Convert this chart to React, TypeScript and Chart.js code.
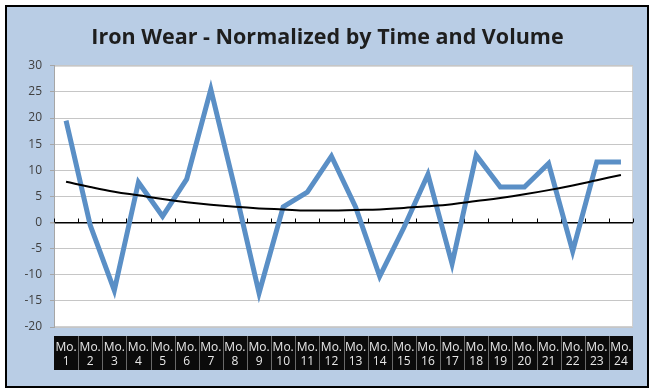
import { useEffect, useRef } from 'react';
import { Chart, registerables } from 'chart.js';

Chart.register(...registerables);

const titleText = 'Iron Wear - Normalized by Time and Volume';

const categories = [
  'Mo. 1', 'Mo. 2', 'Mo. 3', 'Mo. 4', 'Mo. 5', 'Mo. 6', 'Mo. 7', 'Mo. 8',
  'Mo. 9', 'Mo. 10', 'Mo. 11', 'Mo. 12', 'Mo. 13', 'Mo. 14', 'Mo. 15', 'Mo. 16',
  'Mo. 17', 'Mo. 18', 'Mo. 19', 'Mo. 20', 'Mo. 21', 'Mo. 22', 'Mo. 23', 'Mo. 24',
];

const wearValues = [
  19.5, -0.5, -13, 7.7, 1.2, 8.3, 25.5, 6.5, -13.5, 3, 5.8, 12.7,
  3, -10.3, -1, 9.2, -7.9, 12.9, 6.8, 6.8, 11.3, -5.5, 11.6, 11.6,
];

const trendValues = [
  7.8, 6.8, 5.9, 5.2, 4.5, 3.9, 3.4, 3.0, 2.7, 2.5, 2.3, 2.3,
  2.4, 2.5, 2.8, 3.1, 3.5, 4.1, 4.7, 5.4, 6.2, 7.1, 8.1, 9.1,
];

const yMin = -20;
const yMax = 30;
const yStep = 5;

const framePlugin = {
  id: 'frame',
  beforeDraw(chart: any) {
    const { ctx, chartArea, width, height } = chart;
    const xs = chart.scales.x;
    ctx.save();
    ctx.fillStyle = '#ffffff';
    ctx.fillRect(0, 0, width, height);
    ctx.fillStyle = '#b9cde5';
    ctx.fillRect(6, 6, 642, 381);
    ctx.strokeStyle = '#000000';
    ctx.lineWidth = 2;
    ctx.strokeRect(6, 6, 642, 381);
    // plot area
    ctx.fillStyle = '#ffffff';
    ctx.fillRect(chartArea.left, chartArea.top, chartArea.right - chartArea.left, chartArea.bottom - chartArea.top);
    ctx.strokeStyle = '#d0d0d0';
    ctx.lineWidth = 1;
    ctx.strokeRect(chartArea.left + 0.5, chartArea.top + 0.5, chartArea.right - chartArea.left - 1, chartArea.bottom - chartArea.top - 1);
    // label cells
    const top = chartArea.bottom + 9;
    const bottom = chartArea.bottom + 43;
    const x0 = xs.getPixelForValue(-0.5);
    const x1 = xs.getPixelForValue(categories.length - 0.5);
    ctx.fillStyle = '#0b0b0b';
    ctx.fillRect(x0, top, x1 - x0, bottom - top);
    ctx.strokeStyle = '#6a6a6a';
    ctx.lineWidth = 1;
    for (let i = 1; i < categories.length; i++) {
      const x = Math.round(xs.getPixelForValue(i - 0.5)) + 0.5;
      ctx.beginPath();
      ctx.moveTo(x, top);
      ctx.lineTo(x, bottom);
      ctx.stroke();
    }
    ctx.restore();
  },
  beforeDatasetsDraw(chart: any) {
    const { ctx } = chart;
    const xs = chart.scales.x;
    const ys = chart.scales.y;
    const y0 = ys.getPixelForValue(0);
    ctx.save();
    ctx.strokeStyle = '#000000';
    ctx.lineWidth = 1;
    for (let i = 0; i <= categories.length; i++) {
      const x = Math.round(xs.getPixelForValue(i - 0.5)) + 0.5;
      ctx.beginPath();
      ctx.moveTo(x, y0);
      ctx.lineTo(x, y0 - 4);
      ctx.stroke();
    }
    ctx.restore();
  },
};

export default function App() {
  const ref = useRef<HTMLCanvasElement>(null);
  useEffect(() => {
    if (!ref.current) return;
    const chart = new Chart(ref.current, {
      type: 'line',
      data: {
        labels: categories,
        datasets: [
          {
            label: 'Trend',
            data: trendValues,
            borderColor: '#000000',
            borderWidth: 2,
            pointRadius: 0,
            tension: 0.4,
            fill: false,
            order: 0,
          },
          {
            label: 'Wear',
            data: wearValues,
            borderColor: '#5a8fc6',
            borderWidth: 5,
            pointRadius: 0,
            tension: 0,
            fill: false,
            order: 1,
          },
        ],
      },
      options: {
        animation: false,
        responsive: false,
        devicePixelRatio: 1,
        layout: { padding: { left: 22, right: 22, top: 0, bottom: 0 } },
        plugins: {
          legend: { display: false },
          tooltip: { enabled: false },
          title: {
            display: true,
            text: titleText,
            color: '#1e1e1e',
            font: { family: 'Open Sans', size: 21.5, weight: 'bold' },
            padding: { top: 25, bottom: 15 },
          },
        },
        scales: {
          x: {
            type: 'category',
            offset: true,
            grid: { display: false, drawTicks: false },
            border: { display: false },
            ticks: {
              color: '#e8e8e8',
              font: { family: 'Open Sans', size: 12 },
              padding: 13,
              maxRotation: 0,
              minRotation: 0,
              autoSkip: false,
              callback: (_v: any, i: number) => categories[i].split(' '),
            },
            afterFit: (s: any) => { s.height = 64; },
          },
          y: {
            min: yMin,
            max: yMax,
            ticks: {
              stepSize: yStep,
              color: '#404040',
              font: { family: 'Open Sans', size: 12 },
              padding: 8,
            },
            grid: {
              color: (c: any) => (c.tick && c.tick.value === 0 ? '#000000' : '#c6c6c6'),
              lineWidth: (c: any) => (c.tick && c.tick.value === 0 ? 1.5 : 1),
              tickColor: '#a6a6a6',
              tickLength: 4,
            },
            border: { color: '#a6a6a6' },
            afterFit: (s: any) => { s.width = 32; },
          },
        },
      },
      plugins: [framePlugin],
    } as any);
    return () => chart.destroy();
  }, []);
  return (
    <div style={{ position: 'fixed', left: 0, top: 0, width: 655, height: 391, background: '#ffffff' }}>
      <canvas ref={ref} width={655} height={391} style={{ display: 'block' }} />
    </div>
  );
}
